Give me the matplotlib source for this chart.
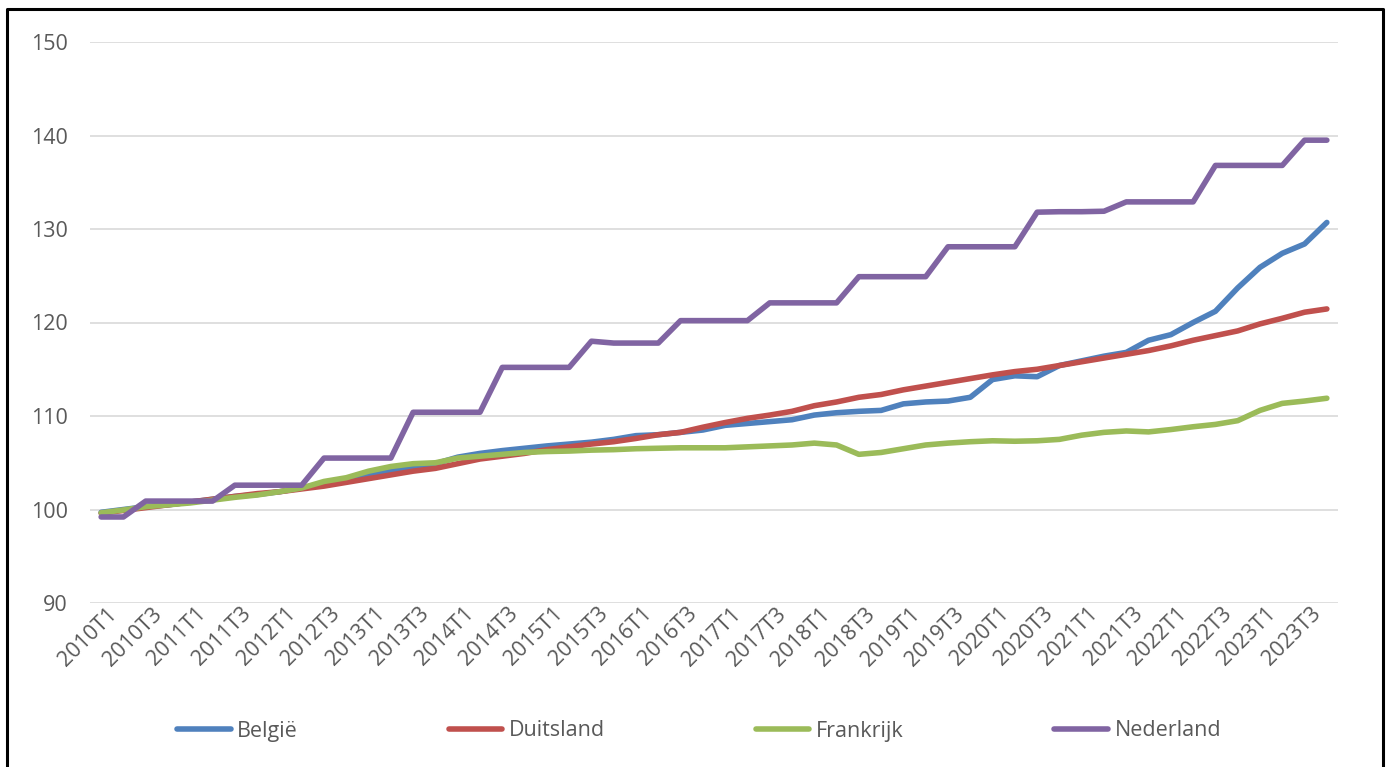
import matplotlib.pyplot as plt
from matplotlib.lines import Line2D
import matplotlib.transforms as mtransforms

# quarterly index (2010T1 = ~100), 2010T1 .. 2023T4
quarters = [f"{y}T{q}" for y in range(2010, 2024) for q in range(1, 5)]

belgie = [99.7, 100.0, 100.3, 100.5, 100.8, 101.1, 101.4, 101.6, 101.9, 102.3,
          102.8, 103.1, 103.6, 104.1, 104.6, 104.9, 105.6, 106.0, 106.3, 106.55,
          106.8, 107.0, 107.2, 107.5, 107.9, 108.0, 108.25, 108.5, 109.0, 109.2,
          109.4, 109.6, 110.1, 110.35, 110.5, 110.6, 111.3, 111.5, 111.6, 112.0,
          113.9, 114.3, 114.2, 115.4, 115.9, 116.4, 116.8, 118.1, 118.7, 120.0,
          121.2, 123.7, 125.9, 127.4, 128.4, 130.7]
duitsland = [99.6, 99.9, 100.2, 100.5, 100.8, 101.1, 101.4, 101.7, 101.9, 102.2,
             102.5, 102.9, 103.3, 103.7, 104.1, 104.4, 104.9, 105.4, 105.7, 106.0,
             106.4, 106.7, 107.0, 107.25, 107.6, 108.0, 108.25, 108.8, 109.3, 109.75,
             110.1, 110.5, 111.1, 111.5, 112.0, 112.3, 112.8, 113.2, 113.6, 114.0,
             114.4, 114.75, 115.0, 115.4, 115.8, 116.2, 116.6, 117.0, 117.5, 118.1,
             118.6, 119.1, 119.85, 120.45, 121.1, 121.45]
frankrijk = [99.65, 99.95, 100.3, 100.5, 100.7, 101.0, 101.3, 101.55, 101.9, 102.3,
             103.0, 103.4, 104.1, 104.6, 104.9, 105.0, 105.5, 105.7, 105.9, 106.1,
             106.2, 106.25, 106.35, 106.4, 106.5, 106.55, 106.6, 106.6, 106.6, 106.7,
             106.8, 106.9, 107.1, 106.9, 105.9, 106.1, 106.5, 106.9, 107.1, 107.25,
             107.35, 107.3, 107.35, 107.5, 107.95, 108.25, 108.4, 108.3, 108.55, 108.85,
             109.1, 109.5, 110.6, 111.35, 111.6, 111.9]
nederland = [99.2, 99.2, 100.9, 100.9, 100.9, 100.9, 102.6, 102.6, 102.6, 102.6,
             105.5, 105.5, 105.5, 105.5, 110.4, 110.4, 110.4, 110.4, 115.2, 115.2,
             115.2, 115.2, 118.0, 117.8, 117.8, 117.8, 120.2, 120.2, 120.2, 120.2,
             122.1, 122.1, 122.1, 122.1, 124.9, 124.9, 124.9, 124.9, 128.1, 128.1,
             128.1, 128.1, 131.8, 131.85, 131.85, 131.9, 132.9, 132.9, 132.9, 132.9,
             136.8, 136.8, 136.8, 136.8, 139.5, 139.5]

series = [("België", belgie, "#4F81BD"),
          ("Duitsland", duitsland, "#C0504D"),
          ("Frankrijk", frankrijk, "#9BBB59"),
          ("Nederland", nederland, "#8064A2")]

plt.rcParams['font.family'] = ['Open Sans', 'DejaVu Sans']
txt = "#595959"
fs = 15.5

fig = plt.figure(figsize=(13.89, 7.67), dpi=100)
ax = fig.add_axes([90 / 1389, 1 - 603 / 767, 1248 / 1389, 561 / 767])

x = list(range(len(quarters)))
for name, vals, col in series:
    ax.plot(x, vals, color=col, linewidth=4, label=name,
            solid_joinstyle='round', solid_capstyle='round')

ax.set_xlim(-0.5, len(quarters) - 0.5)
ax.set_ylim(90, 150)
ax.set_yticks(range(90, 151, 10))
ax.grid(axis='y', color='#D9D9D9', linewidth=1.2)
ax.set_axisbelow(True)
for s in ax.spines.values():
    s.set_visible(False)
ax.tick_params(axis='both', length=0, colors=txt, labelsize=fs)
ax.tick_params(axis='y', pad=16)

ax.set_xticks(x[::2])
ax.set_xticklabels(quarters[::2], rotation=45, ha='right', va='center',
                   rotation_mode='anchor')
offset = mtransforms.ScaledTranslation(0.13, -0.03, fig.dpi_scale_trans)
for lab in ax.get_xticklabels():
    lab.set_transform(lab.get_transform() + offset)

handles = [Line2D([], [], color=c, linewidth=4, solid_capstyle='round') for _, _, c in series]
fig.legend(handles, [n for n, _, _ in series], loc='center',
           bbox_to_anchor=(699 / 1389, 1 - 731 / 767), ncol=4, frameon=False,
           fontsize=fs, handlelength=2.5, handletextpad=0.3, columnspacing=7.0,
           labelcolor=txt)

# black frame (left, top, right)
fig.add_artist(Line2D([7.5 / 1389, 7.5 / 1389, 1383 / 1389, 1383 / 1389],
                      [0, 1 - 8.5 / 767, 1 - 8.5 / 767, 0],
                      transform=fig.transFigure, color='black', linewidth=2.2))

fig.savefig("out.png", dpi=100)
